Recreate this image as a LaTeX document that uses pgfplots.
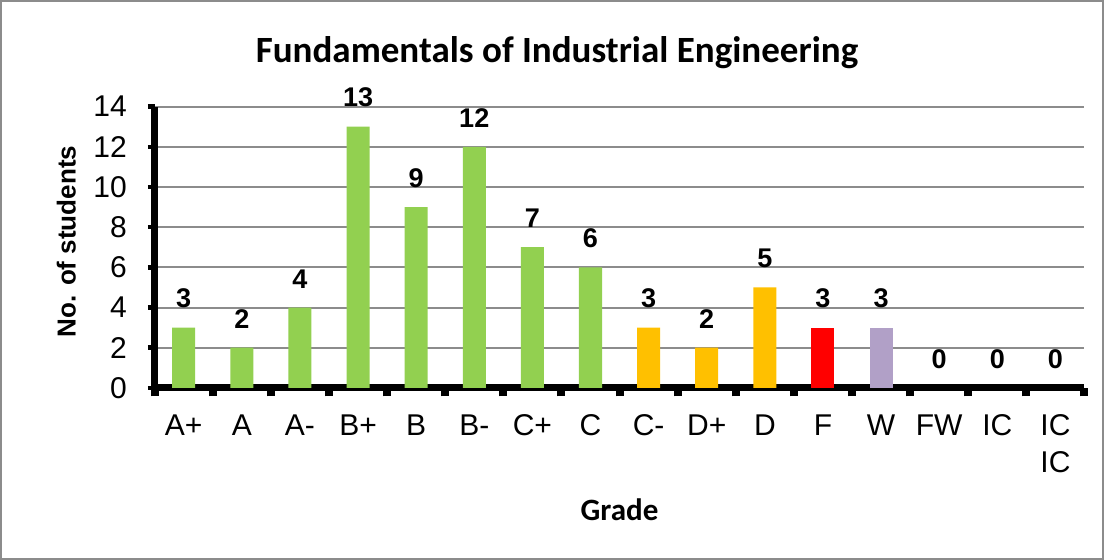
\documentclass[border=0pt]{standalone}
\usepackage{fontspec}
\setmainfont{Liberation Sans}
\newfontfamily\calibri{Carlito}
\usepackage{pgfplots}
\pgfplotsset{compat=1.18}

\definecolor{grgreen}{HTML}{92D050}
\definecolor{grorange}{HTML}{FFC000}
\definecolor{grred}{HTML}{FF0000}
\definecolor{grpurple}{HTML}{B1A0C7}
\definecolor{gridgray}{HTML}{8C8C8C}
\definecolor{framegray}{HTML}{8C8C8C}

\begin{document}
\begin{tikzpicture}
\begin{axis}[
    scale only axis, width=464.5pt, height=140.5pt,
    xmin=-0.5, xmax=15.5, ymin=0, ymax=14,
    clip=false,
    ybar, bar width=11.5pt, bar shift=0pt,
    axis x line=bottom, axis y line=left,
    axis line style={-, line width=3.5pt, black},
    xtick={0,...,15},
    xticklabels={A+,A,A-,B+,B,B-,C+,C,C-,D+,D,F,W,FW,IC,IC\\IC},
    major x tick style={draw=none},
    minor xtick={-0.5,0.5,...,15.5},
    minor x tick style={line width=4pt, black},
    minor tick length=4.25pt,
    ytick={0,2,...,14},
    major y tick style={line width=2.2pt, black},
    major tick length=3.4pt,
    tick align=outside,
    ymajorgrids, grid style={gridgray, line width=1pt},
    /pgf/number format/assume math mode=true,
    xticklabel style={font=\fontsize{15}{18.5}\selectfont, align=center, yshift=-6.5pt},
    yticklabel style={font=\fontsize{15}{17}\selectfont, xshift=-7pt},
    nodes near coords,
    every node near coord/.append style={font=\bfseries\fontsize{13.5}{16}\selectfont, inner sep=0pt, yshift=9.5pt},
    title={Fundamentals of Industrial Engineering},
    every axis title/.style={at={(axis description cs:0.4327,1.192)}, anchor=center,
        font=\calibri\bfseries\fontsize{18.5}{22}\selectfont},
    xlabel={Grade},
    every axis x label/.style={at={(axis description cs:0.5,-0.435)}, anchor=center,
        font=\calibri\bfseries\fontsize{15.5}{18}\selectfont},
    ylabel={No. of students},
    every axis y label/.style={at={(axis description cs:-0.095,0.52)}, anchor=center, rotate=90,
        font=\bfseries\fontsize{13}{15}\selectfont},
]
\addplot[fill=grgreen, draw=none] coordinates {(0,3) (1,2) (2,4) (3,13) (4,9) (5,12) (6,7) (7,6)};
\addplot[fill=grorange, draw=none] coordinates {(8,3) (9,2) (10,5)};
\addplot[fill=grred, draw=none] coordinates {(11,3)};
\addplot[fill=grpurple, draw=none] coordinates {(12,3)};
\addplot[fill=none, draw=none] coordinates {(13,0) (14,0) (15,0)};
\end{axis}
\draw[framegray, line width=1pt] (-76.75pt,-85.25pt) rectangle (473.75pt,193.25pt);
\end{tikzpicture}
\end{document}
